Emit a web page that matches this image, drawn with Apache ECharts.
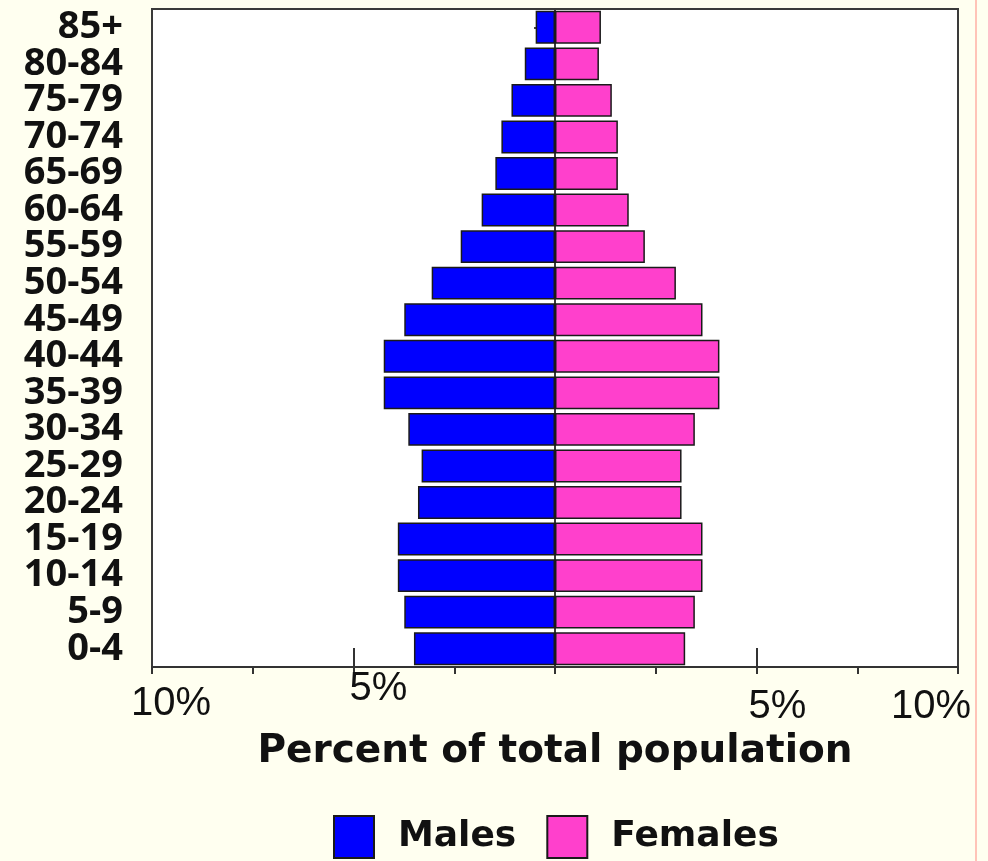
<!DOCTYPE html>
<html>
<head>
<meta charset="utf-8">
<script src="https://cdn.jsdelivr.net/npm/echarts@6.0.0/dist/echarts.min.js"></script>
<style>
  html, body { margin: 0; padding: 0; background: #fffff0; }
  #chart { width: 988px; height: 861px; }
</style>
</head>
<body>
<div id="chart"></div>
<script>
// age groups, bottom to top
const ageGroups = ['0-4', '5-9', '10-14', '15-19', '20-24', '25-29', '30-34', '35-39', '40-44',
    '45-49', '50-54', '55-59', '60-64', '65-69', '70-74', '75-79', '80-84', '85+'];

// percent of total population
const males   = [3.50, 3.74, 3.90, 3.90, 3.40, 3.31, 3.64, 4.25, 4.25, 3.74, 3.06, 2.34, 1.82, 1.48, 1.33, 1.08, 0.75, 0.48];
const females = [3.23, 3.47, 3.66, 3.66, 3.14, 3.14, 3.47, 4.08, 4.08, 3.66, 3.00, 2.23, 1.83, 1.56, 1.56, 1.41, 1.09, 1.14];

// x axis tick labels
const xTickValues = [-10, -5, 5, 10];
const xTickLabels = ['10%', '5%', '5%', '10%'];

const chart = echarts.init(document.getElementById('chart'));

const labelFont = 'Liberation Sans, Arial, sans-serif';
const boldFont = 'DejaVu Sans, sans-serif';

let option = {
    backgroundColor: '#fffff0',
    animation: false,
    grid: {
        left: 152, right: 30, top: 9, bottom: 194,
        show: true, backgroundColor: '#ffffff',
        borderColor: '#3a3a3a', borderWidth: 2
    },
    legend: {
        left: 333, top: 815, padding: 0,
        itemWidth: 40, itemHeight: 42, itemGap: 30,
        icon: 'rect',
        textStyle: {
            fontFamily: boldFont, fontWeight: 'bold', fontSize: 36, color: '#111',
            padding: [4, 0, 0, 19]
        },
        data: ['Males', 'Females']
    },
    xAxis: [
        {
            type: 'value', min: -10, max: 10, interval: 2.5,
            position: 'bottom',
            splitLine: { show: false },
            axisLine: { show: true, lineStyle: { color: '#333', width: 2 } },
            axisTick: { show: true, length: 7, inside: false, lineStyle: { color: '#333', width: 2 } },
            axisLabel: {
                customValues: xTickValues,
                margin: 2,
                color: '#111', fontFamily: labelFont, fontSize: 40,
                formatter: function (value) {
                    let idx = xTickValues.indexOf(value);
                    return '{t' + idx + '|' + xTickLabels[idx] + '}';
                },
                rich: {
                    t0: { fontFamily: labelFont, fontSize: 40, color: '#111', padding: [15, 0, 0, 38] },
                    t1: { fontFamily: labelFont, fontSize: 40, color: '#111', padding: [0, 0, 0, 50] },
                    t2: { fontFamily: labelFont, fontSize: 40, color: '#111', padding: [18, 0, 0, 42] },
                    t3: { fontFamily: labelFont, fontSize: 40, color: '#111', padding: [18, 54, 0, 0] }
                }
            },
            name: 'Percent of total population',
            nameLocation: 'middle',
            nameGap: 62,
            nameTextStyle: { fontFamily: boldFont, fontWeight: 'bold', fontSize: 39, color: '#111' }
        },
        {
            // the taller inner ticks at 5%
            type: 'value', min: -10, max: 10,
            position: 'bottom',
            splitLine: { show: false },
            axisLine: { show: false },
            axisLabel: { show: false },
            axisTick: {
                show: true, inside: true, length: 19,
                customValues: [-5, 5],
                lineStyle: { color: '#333', width: 2 }
            }
        }
    ],
    yAxis: {
        type: 'category',
        data: ageGroups,
        axisLine: { show: true, lineStyle: { color: '#3a3a3a', width: 2 } },
        axisTick: { show: true, alignWithLabel: true, length: 21, lineStyle: { color: '#444', width: 2 } },
        axisLabel: {
            margin: 29, interval: 0,
            fontFamily: 'Open Sans, sans-serif', fontWeight: 'bold', fontSize: 38, color: '#111'
        }
    },
    series: [
        {
            name: 'Males', type: 'bar', stack: 'pop',
            barCategoryGap: '10%',
            itemStyle: { color: '#0000ff', borderColor: '#1a1a1a', borderWidth: 1.5 },
            data: males.map(v => -v)
        },
        {
            name: 'Females', type: 'bar', stack: 'pop',
            barCategoryGap: '10%',
            itemStyle: { color: '#ff40cc', borderColor: '#1a1a1a', borderWidth: 1.5 },
            data: females
        }
    ],
    graphic: [
        {
            // thin pink rule on the right edge of the page
            type: 'rect', left: 975, top: 0,
            shape: { width: 2, height: 861 },
            style: { fill: '#ffc4b8' }
        }
    ]
};

option && chart.setOption(option);
</script>
</body>
</html>
